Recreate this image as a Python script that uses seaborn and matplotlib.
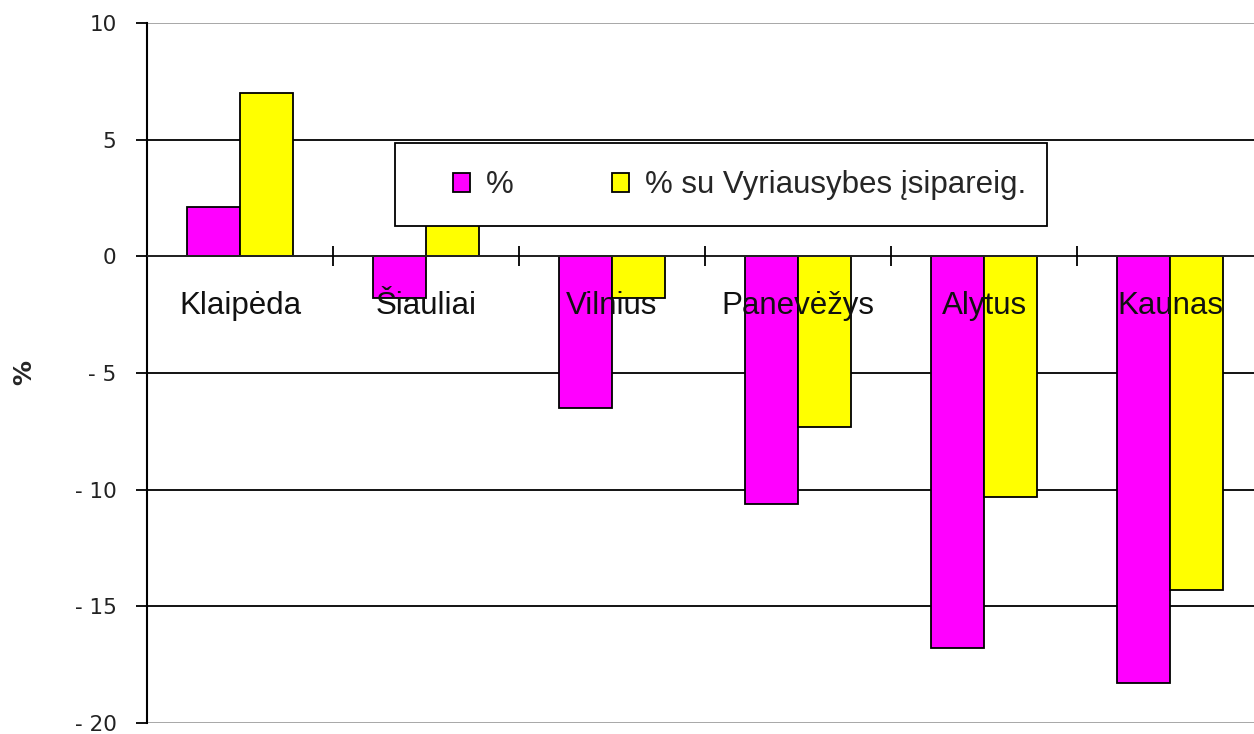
import matplotlib
matplotlib.use("Agg")
import matplotlib.pyplot as plt
import matplotlib.patches as mpatches
import pandas as pd
import seaborn as sns

cities = ["Klaipėda", "Šiauliai", "Vilnius", "Panevėžys", "Alytus", "Kaunas"]
series_names = ["%", "% su Vyriausybes įsipareig."]
pct = [2.1, -1.8, -6.5, -10.6, -16.8, -18.3]
pct_gov = [7.0, 2.0, -1.8, -7.3, -10.3, -14.3]
y_ticks = [10, 5, 0, -5, -10, -15, -20]
y_tick_labels = ["10", "5", "0", "- 5", "- 10", "- 15", "- 20"]

df = pd.DataFrame({
    "city": cities * 2,
    "value": pct + pct_gov,
    "series": [series_names[0]] * len(cities) + [series_names[1]] * len(cities),
})

sns.set_style("white")
plt.rcParams['font.family'] = ['Liberation Sans', 'DejaVu Sans']

fig = plt.figure(figsize=(12.54, 7.34), dpi=100)
# axes runs a little past the right edge, like the cropped original
ax = fig.add_axes([147 / 1254, 1 - 723 / 734, 1116 / 1254, 700 / 734])

# horizontal grid behind the bars (tick labels must stay on top of bars)
for i, y in enumerate(y_ticks):
    c = "#a0a0a0" if i in (0, len(y_ticks) - 1) else "black"
    ax.axhline(y, color=c, linewidth=1.3, zorder=0)

sns.barplot(data=df, x="city", y="value", hue="series", order=cities,
            hue_order=series_names,
            palette={series_names[0]: "#FF00FF", series_names[1]: "#FFFF00"},
            width=0.57, edgecolor="black", linewidth=1.3, saturation=1,
            ax=ax)

ax.set_xlim(-0.5, 5.5)
ax.set_ylim(-20, 10)
ax.set_xlabel("")
ax.grid(False)
ax.set_axisbelow(False)

# y axis
ax.set_yticks(y_ticks)
ax.set_yticklabels(y_tick_labels, family="DejaVu Sans", fontsize=15.5, color="#222222")
ax.tick_params(axis="y", direction="out", length=8, width=1.3, color="black", pad=14, left=True)
ax.set_ylabel("%", fontsize=18, fontweight="bold", rotation=90, family="DejaVu Sans")
ax.yaxis.set_label_coords(-0.099, 0.5)

# x axis sits on zero
ax.spines["bottom"].set_position(("data", 0))
ax.spines["bottom"].set_linewidth(1.3)
ax.spines["left"].set_linewidth(1.5)
ax.spines["left"].set_color("black")
ax.spines["top"].set_visible(False)
ax.spines["right"].set_visible(False)
ax.set_xticks(range(len(cities)))
ax.set_xticklabels(cities, fontsize=22.5, color="#111111")
ax.set_xticks([i + 0.5 for i in range(len(cities) - 1)], minor=True)
ax.tick_params(axis="x", which="major", length=0, pad=25, bottom=True)
ax.tick_params(axis="x", which="minor", direction="inout", length=14, width=1.3,
               color="black", bottom=True)

# legend in a box
handles, labels = ax.get_legend_handles_labels()
ax.get_legend().remove()
box = mpatches.Rectangle((0.2222, 0.710), 0.5843, 0.1186, transform=ax.transAxes,
                         facecolor="white", edgecolor="black", linewidth=1.3, zorder=5)
ax.add_patch(box)
leg = ax.legend(handles, labels, loc="center left", bbox_to_anchor=(0.274, 0.768),
                ncol=2, frameon=False, fontsize=22.5, handlelength=0.55,
                handleheight=0.55, handletextpad=0.5, columnspacing=3.15,
                borderaxespad=0, borderpad=0)
leg.set_zorder(6)

fig.savefig("out.png", dpi=100)
